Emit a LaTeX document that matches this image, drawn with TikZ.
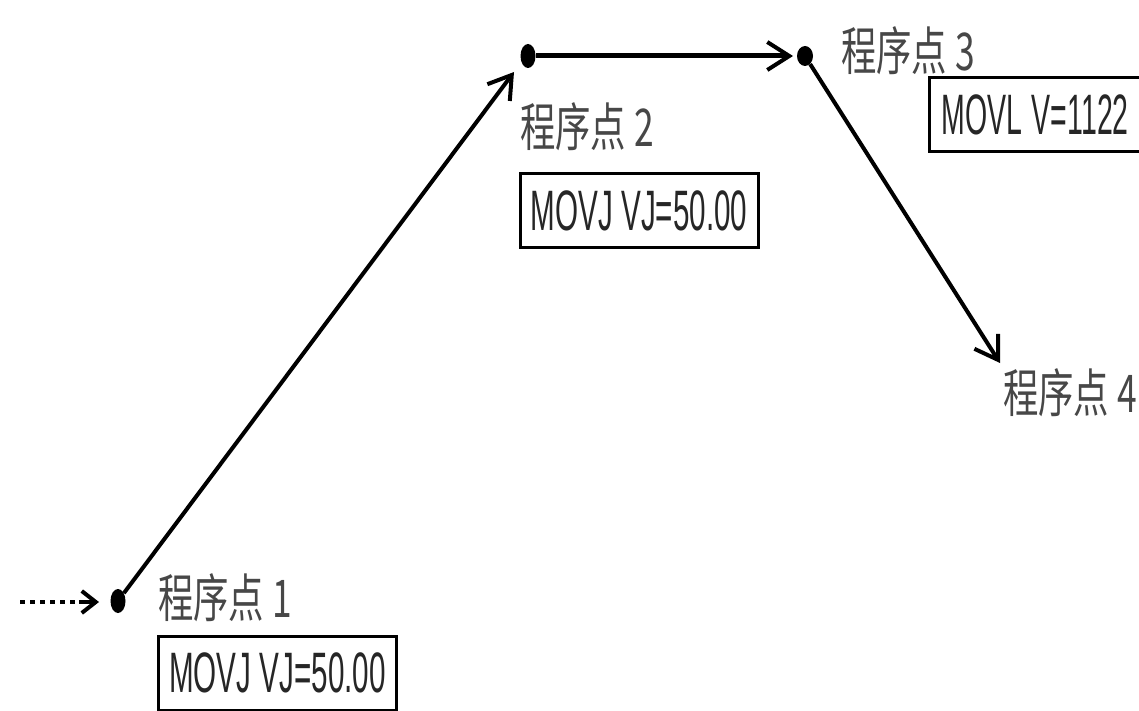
\documentclass[tikz,border=0pt]{standalone}
\usepackage{fontspec}
\usepackage{graphicx}
\newfontfamily\cjk{Noto Sans CJK SC}
\newfontfamily\narrowfont{Liberation Sans}
\usetikzlibrary{shapes.geometric,arrows.meta}
\begin{document}
\begin{tikzpicture}[x=1pt,y=-1pt,
  pt/.style={ellipse,fill=black,inner sep=0pt,minimum width=15pt,minimum height=24pt},
  lbl/.style={inner sep=0pt,text=black!72,font=\cjk\fontsize{52}{52}\selectfont},
  cmd/.style={draw,line width=3pt,inner sep=0pt,minimum width=238pt,minimum height=74pt,
    font=\narrowfont\fontsize{57}{57}\selectfont,text=black!85},
  path/.style={line width=4pt,-{Straight Barb[length=22pt,width=28pt,line width=4pt]}},
]
\useasboundingbox (0,0) rectangle (1139,711);
% points
\node[pt] (p1) at (118,601) {};
\node[pt] (p2) at (528,56) {};
\node[pt,minimum height=20pt,minimum width=16pt] (p3) at (805,56) {};
\coordinate (p4) at (1000,363);
\coordinate (s0) at (20,602);
\coordinate (p1in) at (99,602);
% connectors
\draw[line width=4.5pt,dash pattern=on 5pt off 5pt] (s0) -- ([xshift=-18pt]p1in);
\draw[line width=4pt,-{Straight Barb[length=14pt,width=22pt,line width=4pt]}] ([xshift=-20pt]p1in) -- (p1in);
\draw[path] (p1) -- ([xshift=-14pt,yshift=-16pt]p2.center);
\draw[path,line width=5pt] (p2) -- ([xshift=-12pt]p3.center);
\draw[path] (p3) -- (p4);
% labels
\node[lbl] (l1) at (225,598) {\scalebox{0.68}[1]{程序点 1}};
\node[lbl] (l2) at (587,127) {\scalebox{0.68}[1]{程序点 2}};
\node[lbl] (l3) at (908,51) {\scalebox{0.68}[1]{程序点 3}};
\node[lbl] (l4) at (1070,393) {\scalebox{0.68}[1]{程序点 4}};
% boxes
\node[cmd] (b1) at (277.5,673) {\scalebox{0.52}[1]{MOVJ VJ=50.00}};
\node[cmd] (b2) at (639,210.5) {\scalebox{0.52}[1]{MOVJ VJ=50.00}};
\node[cmd,minimum width=0pt,inner xsep=12pt,text width=215pt,align=left,anchor=west] (b3) at (928,114.5) {\scalebox{0.5}[1]{MOVL V=1122}};
\end{tikzpicture}
\end{document}
